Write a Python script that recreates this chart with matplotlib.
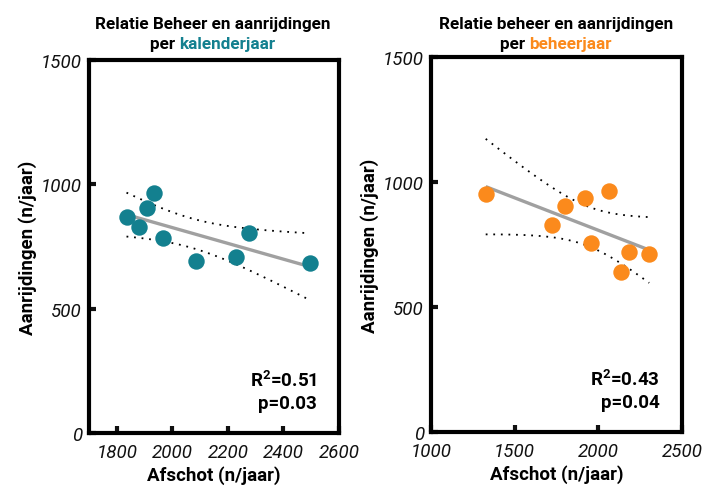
import matplotlib
matplotlib.use("Agg")
import matplotlib.pyplot as plt
import numpy as np

plt.rcParams['font.family'] = ['Roboto', 'DejaVu Sans']
plt.rcParams['mathtext.default'] = 'regular'

# kalenderjaar (links)
kal_afschot = [1835, 1879, 1908, 1933, 1965, 2085, 2231, 2275, 2495]
kal_aanrij = [869, 830, 906, 967, 783, 692, 706, 806, 682]

# beheerjaar (rechts)
beh_afschot = [1327, 1726, 1798, 1923, 1958, 2065, 2137, 2185, 2304]
beh_aanrij = [952, 828, 904, 936, 756, 964, 640, 720, 712]

kal_stats = ["R$^2$=0.51", "p=0.03"]
beh_stats = ["R$^2$=0.43", "p=0.04"]

teal = '#13808f'
orange = '#fb8a1c'
t_crit = 2.365  # t(0.975, df=7)


def fit_band(x, y):
    x = np.array(x, float)
    y = np.array(y, float)
    b, a = np.polyfit(x, y, 1)
    xs = np.linspace(x.min(), x.max(), 100)
    ys = a + b * xs
    res = y - (a + b * x)
    s = np.sqrt(np.sum(res ** 2) / (len(x) - 2))
    se = s * np.sqrt(1 / len(x) + (xs - x.mean()) ** 2 / np.sum((x - x.mean()) ** 2))
    return xs, ys, ys - t_crit * se, ys + t_crit * se


def panel(ax, x, y, color, xlim, xticks, stats):
    xs, ys, lo, hi = fit_band(x, y)
    ax.plot(xs, ys, color='#a0a0a0', lw=2.4, zorder=2, solid_capstyle='butt')
    ax.plot(xs, lo, color='black', lw=1.3, ls=(0, (1, 3.2)), zorder=2)
    ax.plot(xs, hi, color='black', lw=1.3, ls=(0, (1, 3.2)), zorder=2)
    ax.scatter(x, y, s=140, color=color, zorder=3, linewidths=0)
    ax.set_xlim(*xlim)
    ax.set_ylim(0, 1500)
    ax.set_xticks(xticks)
    ax.set_yticks([0, 500, 1000, 1500])
    for sp in ax.spines.values():
        sp.set_linewidth(3)
    ax.tick_params(direction='in', length=5, width=3, labelsize=13.5, colors='#111111')
    ax.tick_params(axis='x', pad=7)
    ax.tick_params(axis='y', pad=5)
    for lab in ax.get_xticklabels() + ax.get_yticklabels():
        lab.set_fontstyle('italic')
    ax.set_xlabel("Afschot (n/jaar)", fontsize=13.5, fontweight='bold', labelpad=3)
    ax.set_ylabel("Aanrijdingen (n/jaar)", fontsize=13.5, fontweight='bold', labelpad=3)
    ax.text(0.912, 0.142, stats[0], transform=ax.transAxes, ha='right', va='center',
            fontsize=13.5, fontweight='bold')
    ax.text(0.912, 0.080, stats[1], transform=ax.transAxes, ha='right', va='center',
            fontsize=13.5, fontweight='bold')


fig = plt.figure(figsize=(7.15, 4.89), dpi=100)
ax1 = fig.add_axes([0.1245, 0.1125, 0.3495, 0.7628])
ax2 = fig.add_axes([0.6028, 0.1145, 0.351, 0.7669])

panel(ax1, kal_afschot, kal_aanrij, teal, (1700, 2600), [1800, 2000, 2200, 2400, 2600], kal_stats)
panel(ax2, beh_afschot, beh_aanrij, orange, (1000, 2500), [1000, 1500, 2000, 2500], beh_stats)

# titels, tweede regel met gekleurd woord
renderer = fig.canvas.get_renderer()


def title(cx, line1, word, color):
    fs = 12.3
    fig.text(cx / 715, 1 - 24 / 489, line1, ha='center', va='center', fontsize=fs, fontweight='bold')
    t1 = fig.text(0, 0, "per ", fontsize=fs, fontweight='bold')
    t2 = fig.text(0, 0, word, fontsize=fs, fontweight='bold', color=color)
    w1 = t1.get_window_extent(renderer).width
    w2 = t2.get_window_extent(renderer).width
    x0 = cx - (w1 + w2) / 2
    y = 1 - 45 / 489
    t1.set_position((x0 / 715, y))
    t1.set_va('center')
    t2.set_position(((x0 + w1) / 715, y))
    t2.set_va('center')


title(213, "Relatie Beheer en aanrijdingen", "kalenderjaar", teal)
title(556, "Relatie beheer en aanrijdingen", "beheerjaar", orange)

fig.savefig("out.png", dpi=100)
